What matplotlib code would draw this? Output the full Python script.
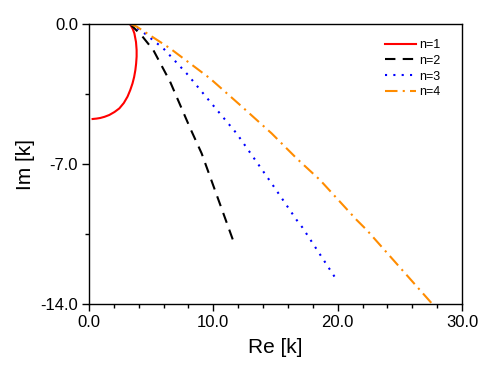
import matplotlib
matplotlib.use("Agg")
import matplotlib.pyplot as plt
from matplotlib.ticker import MultipleLocator

plt.rcParams['font.family'] = ['Liberation Sans', 'DejaVu Sans']

# n=1
re1 = [3.30, 3.52, 3.65, 3.78, 3.83, 3.83, 3.79, 3.73, 3.63, 3.50, 3.32, 3.10, 2.80, 2.44, 2.05, 1.63, 1.25, 0.90, 0.60, 0.29]
im1 = [0.00, -0.25, -0.47, -0.90, -1.30, -1.63, -1.98, -2.30, -2.65, -2.97, -3.30, -3.63, -3.95, -4.22, -4.40, -4.55, -4.64, -4.70, -4.73, -4.75]
# n=2
re2 = [3.30, 4.20, 5.17, 6.52, 8.13, 9.06, 10.94, 11.56]
im2 = [0.00, -0.55, -1.30, -2.88, -5.20, -6.47, -9.70, -10.77]
# n=3
re3 = [3.30, 4.23, 5.98, 7.85, 9.73, 11.87, 14.69, 16.70, 17.16, 19.87]
im3 = [0.00, -0.35, -1.22, -2.47, -3.88, -5.47, -7.97, -9.80, -10.17, -12.75]
# n=4
re4 = [3.30, 3.83, 6.52, 9.73, 12.15, 14.69, 16.70, 18.58, 21.53, 22.34, 27.57, 28.30]
im4 = [0.00, -0.13, -1.22, -2.72, -4.05, -5.47, -6.72, -7.80, -9.80, -10.30, -13.97, -14.55]

labels = ["n=1", "n=2", "n=3", "n=4"]
xticks = [0, 10, 20, 30]
yticks = [-14, -7, 0]

fig = plt.figure(figsize=(4.98, 3.82), dpi=100)
ax = fig.add_axes([89/498, 1 - 304/382, (462-89)/498, (304-24)/382])

ax.plot(re1, im1, color='red', lw=1.5, ls='-', label=labels[0])
ax.plot(re2, im2, color='black', lw=1.5, ls=(0, (5, 3.5)), label=labels[1])
ax.plot(re3, im3, color='blue', lw=1.5, ls=(0, (1, 3)), label=labels[2])
ax.plot(re4, im4, color='darkorange', lw=1.5, ls=(0, (6, 2.5, 1, 2.5)), label=labels[3])

ax.set_xlim(0, 30)
ax.set_ylim(-14, 0)
ax.set_xticks(xticks)
ax.set_yticks(yticks)
ax.set_xticklabels([f"{v:.1f}" for v in xticks])
ax.set_yticklabels([f"{v:.1f}" for v in yticks])
ax.xaxis.set_minor_locator(MultipleLocator(2))
ax.yaxis.set_minor_locator(MultipleLocator(3.5))
ax.tick_params(which='major', direction='out', length=5, width=1, labelsize=12,
               top=False, right=False, pad=3)
ax.tick_params(which='minor', direction='out', length=3, width=1, top=False, right=False)
for s in ax.spines.values():
    s.set_linewidth(1.0)

ax.set_xlabel("Re [k]", fontsize=15, labelpad=6)
ax.set_ylabel("Im [k]", fontsize=15, labelpad=4)

ax.legend(loc='upper left', frameon=False, fontsize=9, handlelength=2.45,
          labelspacing=0.3, handletextpad=0.3, borderpad=0, borderaxespad=0,
          bbox_to_anchor=(385/498, 1 - 39/382), bbox_transform=fig.transFigure)

fig.savefig("out.png", dpi=100)
